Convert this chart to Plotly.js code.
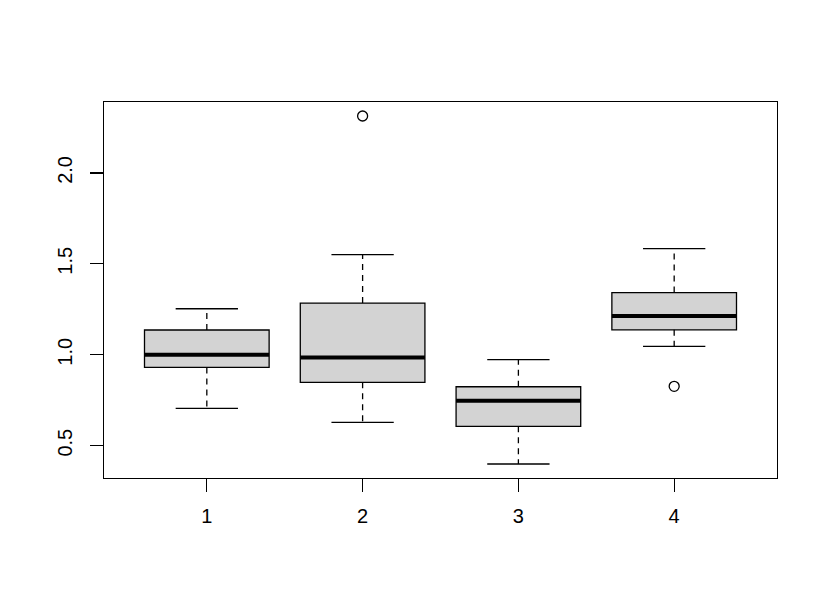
<!DOCTYPE html>
<html>
<head>
<meta charset="utf-8">
<script src="https://cdn.plot.ly/plotly-3.0.1.min.js"></script>
<style>
  html, body { margin: 0; padding: 0; background: white; }
  #chart { width: 830px; height: 608px; }
</style>
</head>
<body>
<div id="chart"></div>
<script>
// groups and their box statistics
let groups = [1, 2, 3, 4]
let lowerWhisker = [0.705, 0.628, 0.399, 1.046]
let q1 = [0.930, 0.848, 0.606, 1.137]
let medians = [1.000, 0.985, 0.747, 1.213]
let q3 = [1.136, 1.284, 0.824, 1.342]
let upperWhisker = [1.253, 1.551, 0.973, 1.584]
let outlierGroup = [2, 4]
let outlierValue = [2.313, 0.826]
let yTicks = [0.5, 1.0, 1.5, 2.0]
let yTickText = ['0.5', '1.0', '1.5', '2.0']

let boxWidth = 0.8
let font = { family: 'Liberation Sans, Arial, sans-serif', size: 20, color: 'black' }

// segment helpers: x/y arrays with nulls between pieces
function segments(fn) {
  let xs = [], ys = []
  groups.forEach((g, i) => {
    fn(g, i).forEach(seg => {
      xs.push(seg[0], seg[2], null)
      ys.push(seg[1], seg[3], null)
    })
  })
  return { x: xs, y: ys }
}

let whiskers = segments((g, i) => [
  [g, q3[i], g, upperWhisker[i]],
  [g, q1[i], g, lowerWhisker[i]]
])
let caps = segments((g, i) => [
  [g - boxWidth / 4, upperWhisker[i], g + boxWidth / 4, upperWhisker[i]],
  [g - boxWidth / 4, lowerWhisker[i], g + boxWidth / 4, lowerWhisker[i]]
])
let medianLines = segments((g, i) => [
  [g - boxWidth / 2, medians[i], g + boxWidth / 2, medians[i]]
])

let data = [
  {
    type: 'box',
    x: groups,
    q1: q1,
    median: medians,
    q3: q3,
    lowerfence: q1,
    upperfence: q3,
    width: boxWidth,
    whiskerwidth: 0,
    fillcolor: '#d3d3d3',
    line: { color: 'black', width: 1.3 },
    boxpoints: false,
    hoverinfo: 'skip'
  },
  {
    type: 'scatter', mode: 'lines',
    x: whiskers.x, y: whiskers.y,
    line: { color: 'black', width: 1.3, dash: '6px,5px' },
    connectgaps: false, hoverinfo: 'skip'
  },
  {
    type: 'scatter', mode: 'lines',
    x: caps.x, y: caps.y,
    line: { color: 'black', width: 1.3 },
    connectgaps: false, hoverinfo: 'skip'
  },
  {
    type: 'scatter', mode: 'lines',
    x: medianLines.x, y: medianLines.y,
    line: { color: 'black', width: 4 },
    connectgaps: false, hoverinfo: 'skip'
  },
  {
    type: 'scatter', mode: 'markers',
    x: outlierGroup, y: outlierValue,
    marker: { symbol: 'circle-open', size: 10, color: 'black', line: { width: 1.3, color: 'black' } },
    hoverinfo: 'skip'
  }
]

let layout = {
  width: 830,
  height: 608,
  margin: { l: 104, r: 53, t: 102, b: 130 },
  paper_bgcolor: 'white',
  plot_bgcolor: 'white',
  showlegend: false,
  font: font,
  xaxis: {
    range: [0.34, 4.66],
    tickvals: groups,
    ticktext: groups.map(String),
    ticks: 'outside',
    ticklen: 13,
    tickwidth: 1.3,
    tickcolor: 'black',
    ticklabelstandoff: 7,
    showline: true,
    mirror: true,
    linecolor: 'black',
    linewidth: 1.3,
    showgrid: false,
    zeroline: false,
    tickfont: font
  },
  yaxis: {
    range: [0.322, 2.390],
    tickvals: yTicks,
    ticktext: yTickText,
    tickangle: -90,
    ticks: 'outside',
    ticklen: 13,
    tickwidth: 1.3,
    tickcolor: 'black',
    ticklabelstandoff: 10,
    showline: true,
    mirror: true,
    linecolor: 'black',
    linewidth: 1.3,
    showgrid: false,
    zeroline: false,
    tickfont: font
  }
}

Plotly.newPlot('chart', data, layout, { displayModeBar: false, staticPlot: true })
</script>
</body>
</html>
